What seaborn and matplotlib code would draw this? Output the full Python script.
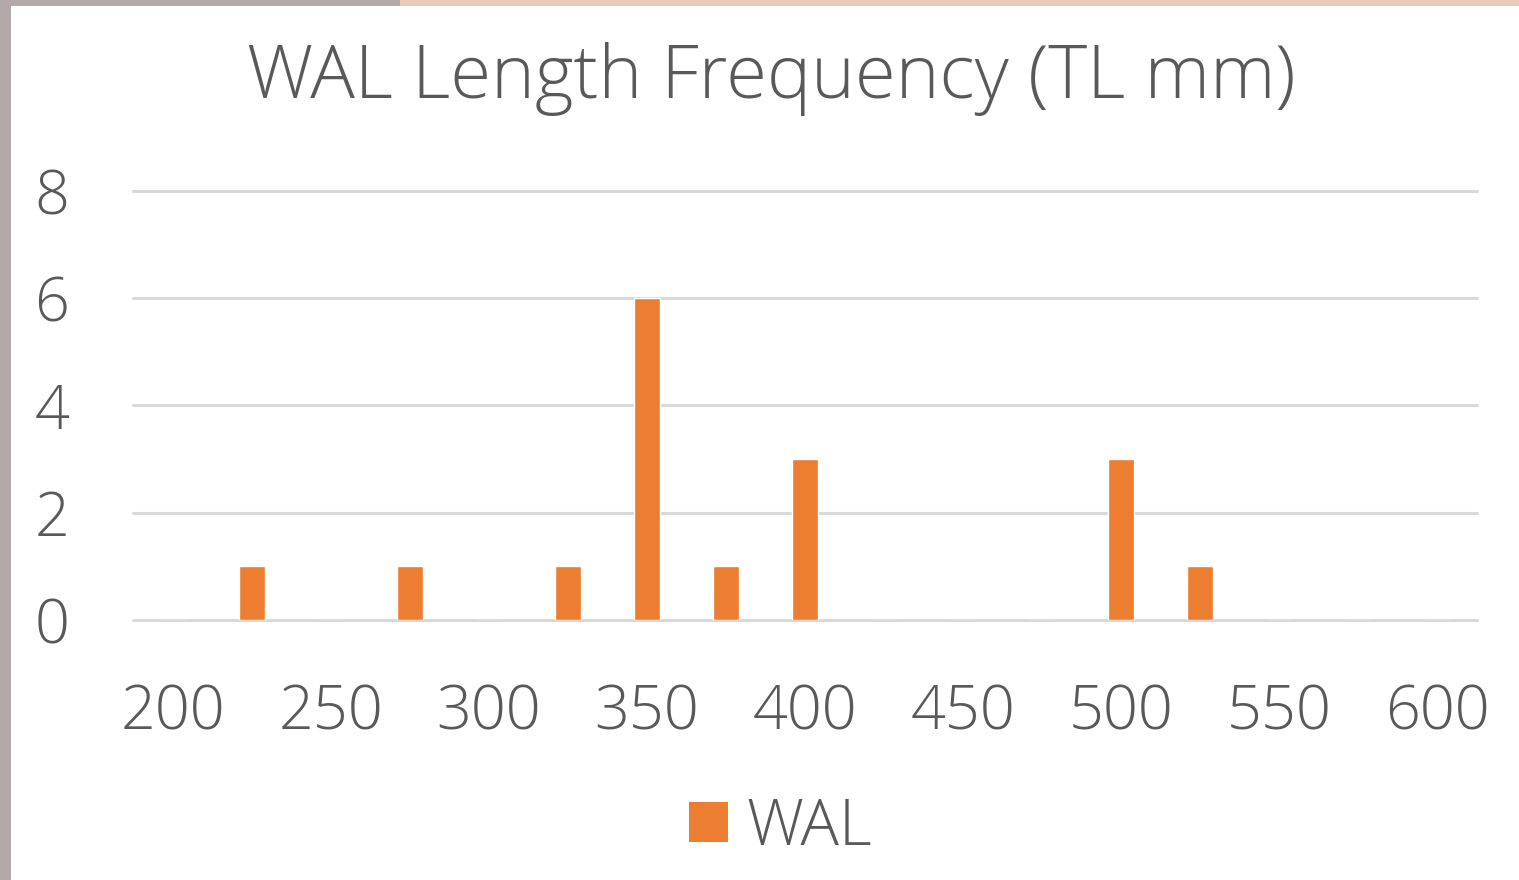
import matplotlib
matplotlib.use("Agg")
import matplotlib.pyplot as plt
from matplotlib.patches import Rectangle, Patch
import seaborn as sns
import pandas as pd

# Length bins (total length, mm) and fish counts per bin
lengths = [200, 225, 250, 275, 300, 325, 350, 375, 400, 425, 450, 475, 500, 525, 550, 575, 600]
counts = [0, 1, 0, 1, 0, 1, 6, 1, 3, 0, 0, 0, 3, 1, 0, 0, 0]
y_ticks = [0, 2, 4, 6, 8]
series_name = "WAL"
title = "WAL Length Frequency (TL mm)"

TEXT = "#595959"
ORANGE = "#ED7D31"
GRID = "#D9D9D9"

sns.set_theme(style="white")
plt.rcParams["font.family"] = ["Open Sans", "DejaVu Sans"]
plt.rcParams["font.weight"] = "light"

df = pd.DataFrame({"length": [str(v) for v in lengths], "count": counts})

fig = plt.figure(figsize=(15.19, 8.8), dpi=100)
fig.patch.set_facecolor("#B3A9A9")
# white chart card on top of the textured frame
fig.patches.append(Rectangle((11 / 1519, 0), 1 - 11 / 1519, 1 - 6 / 880,
                             transform=fig.transFigure, facecolor="white",
                             edgecolor="none", zorder=-10))
fig.patches.append(Rectangle((400 / 1519, 1 - 6 / 880), 1 - 400 / 1519, 6 / 880,
                             transform=fig.transFigure, facecolor="#E8C9BA",
                             edgecolor="none", zorder=-10))

ax = fig.add_axes([133 / 1519, 1 - 620 / 880, (1477 - 133) / 1519, (620 - 191) / 880])
ax.set_facecolor("none")
ax.set_zorder(5)

sns.barplot(data=df, x="length", y="count", order=[str(v) for v in lengths],
            color=ORANGE, saturation=1, width=0.33, ax=ax, zorder=3)

ax.set_ylim(0, 8)
ax.set_xlim(-0.5, len(lengths) - 0.5)
ax.set_yticks(y_ticks)
ax.set_xticks(range(0, len(lengths), 2))
ax.set_xticklabels([str(v) for v in lengths[::2]])

for s in ax.spines.values():
    s.set_visible(False)
ax.yaxis.grid(True, color=GRID, linewidth=2.2)
ax.xaxis.grid(False)
for gl in ax.get_ygridlines():
    gl.set_clip_on(False)
ax.set_axisbelow(True)

ax.tick_params(axis="x", length=0, pad=45, labelsize=44, labelcolor=TEXT)
ax.tick_params(axis="y", length=0, pad=46, labelsize=44, labelcolor=TEXT)
ax.set_xlabel("")
ax.set_ylabel("")

fig.text(0.5 * (252 + 1290) / 1519, 1 - 79 / 880, title, ha="center", va="center",
         fontsize=53.5, color=TEXT)

handle = Patch(facecolor=ORANGE, edgecolor="none", label=series_name)
fig.legend(handles=[handle], loc="center", bbox_to_anchor=(781 / 1519, 1 - 828 / 880),
           frameon=False, fontsize=46, labelcolor=TEXT, handlelength=0.6,
           handleheight=0.6, handletextpad=0.3, borderpad=0)

fig.savefig("out.png", dpi=100, facecolor=fig.get_facecolor())
